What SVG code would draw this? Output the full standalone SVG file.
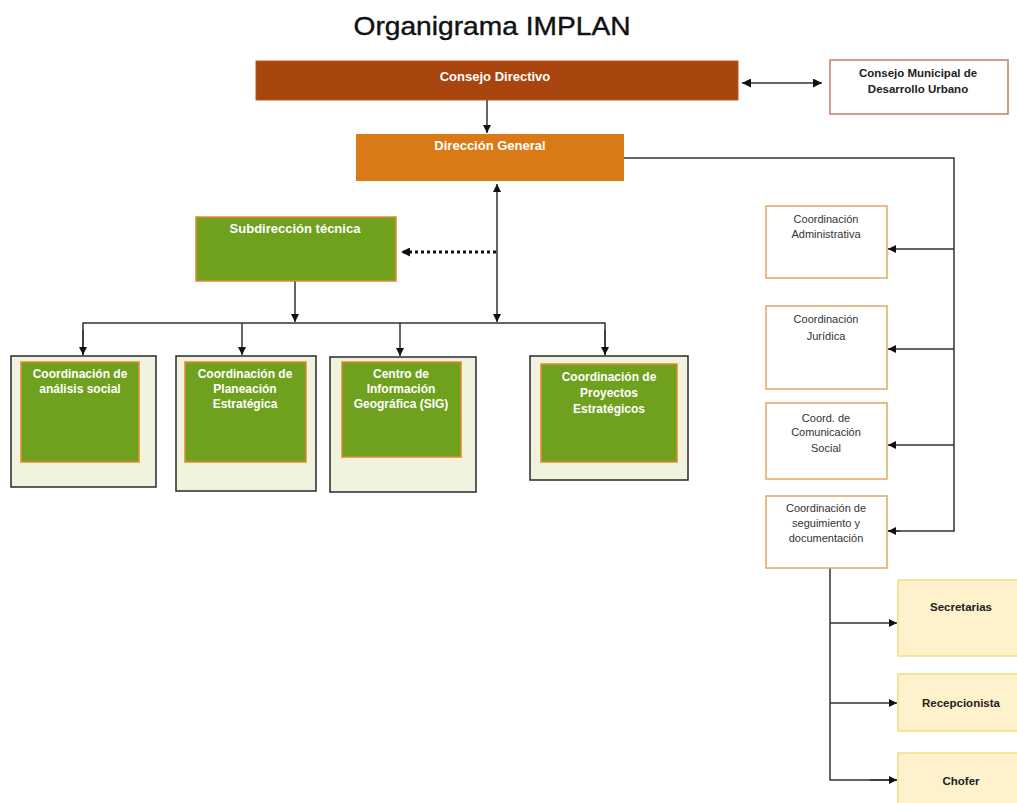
<svg xmlns="http://www.w3.org/2000/svg" width="1017" height="803" viewBox="0 0 1017 803">
<style>
.title{font-family:"Liberation Sans",Arial,sans-serif;font-size:26px;fill:#111;text-anchor:middle;stroke:#111;stroke-width:0.4}
.hw{font-family:"Liberation Sans Narrow","Liberation Sans",sans-serif;font-weight:bold;font-size:13px;fill:#fff;text-anchor:middle}
.gw{font-family:"Liberation Sans",sans-serif;font-weight:bold;font-size:12px;fill:#fff;text-anchor:middle}
.rt{font-family:"Liberation Sans",sans-serif;font-size:11px;fill:#333;text-anchor:middle}
.bt{font-family:"Liberation Sans",sans-serif;font-weight:bold;font-size:11.5px;fill:#222;text-anchor:middle}
.outer{fill:#F2F3DF;stroke:#2a2a2a;stroke-width:1.5}
.green{fill:#6FA01E;stroke:#E4892E;stroke-width:1.5}
.coord{fill:#fff;stroke:#E2A860;stroke-width:1.5}
.yel{fill:#FDF2CB;stroke:#F3DE80;stroke-width:1.5}
.ln{fill:none;stroke:#333;stroke-width:1.5}
</style>
<defs>
<marker id="ah" viewBox="0 0 10 10" refX="10" refY="5" markerWidth="8" markerHeight="8" markerUnits="userSpaceOnUse" orient="auto-start-reverse">
<path d="M0,0 L10,5 L0,10 z" fill="#111"/>
</marker>
<marker id="ahb" viewBox="0 0 10 10" refX="10" refY="5" markerWidth="9" markerHeight="9" markerUnits="userSpaceOnUse" orient="auto-start-reverse">
<path d="M0,0 L10,5 L0,10 z" fill="#111"/>
</marker>
</defs>
<rect width="1017" height="803" fill="#fff"/>
<text class="title" x="492" y="35" textLength="277" lengthAdjust="spacingAndGlyphs">Organigrama IMPLAN</text>

<g id="connectors">
<line class="ln" x1="742" y1="83" x2="822" y2="83" marker-start="url(#ahb)" marker-end="url(#ahb)"/>
<line class="ln" x1="487" y1="100" x2="487" y2="133" marker-end="url(#ah)"/>
<line class="ln" x1="497" y1="184" x2="497" y2="322" marker-start="url(#ah)" marker-end="url(#ah)"/>
<line x1="496" y1="252" x2="401" y2="252" stroke="#111" stroke-width="3" stroke-dasharray="3,3" marker-end="url(#ahb)"/>
<line class="ln" x1="295" y1="281" x2="295" y2="322" marker-end="url(#ah)"/>
<polyline class="ln" points="83,355 83,323 605,323 605,355"/>
<line class="ln" x1="83" y1="330" x2="83" y2="355" marker-end="url(#ah)"/>
<line class="ln" x1="242" y1="323" x2="242" y2="355" marker-end="url(#ah)"/>
<line class="ln" x1="400" y1="323" x2="400" y2="356" marker-end="url(#ah)"/>
<line class="ln" x1="605" y1="330" x2="605" y2="355" marker-end="url(#ah)"/>
<polyline class="ln" points="624,158 954,158 954,531 888,531"/>
<line class="ln" x1="954" y1="249" x2="888" y2="249" marker-end="url(#ah)"/>
<line class="ln" x1="954" y1="349" x2="888" y2="349" marker-end="url(#ah)"/>
<line class="ln" x1="954" y1="445" x2="888" y2="445" marker-end="url(#ah)"/>
<line class="ln" x1="900" y1="531" x2="888" y2="531" marker-end="url(#ah)"/>
<polyline class="ln" points="830,568 830,780 897,780"/>
<line class="ln" x1="830" y1="623" x2="897" y2="623" marker-end="url(#ah)"/>
<line class="ln" x1="830" y1="703" x2="897" y2="703" marker-end="url(#ah)"/>
<line class="ln" x1="870" y1="780" x2="897" y2="780" marker-end="url(#ah)"/>
</g>

<g id="consejo-directivo">
<rect x="256" y="61" width="482" height="39" fill="#A8440E" stroke="#C05A20" stroke-width="1"/>
<text class="hw" x="495" y="81">Consejo Directivo</text>
</g>
<g id="consejo-municipal">
<rect x="830" y="60" width="178" height="54" fill="#fff" stroke="#C97B5C" stroke-width="1.5"/>
<text class="bt" x="918" y="77">Consejo Municipal de</text>
<text class="bt" x="918" y="93">Desarrollo Urbano</text>
</g>
<g id="direccion-general">
<rect x="356" y="134" width="268" height="47" fill="#D97A17"/>
<text class="hw" x="490" y="150">Dirección General</text>
</g>
<g id="subdireccion-tecnica">
<rect x="196" y="217" width="200" height="64" fill="#6FA01E" stroke="#E4892E" stroke-width="1.5"/>
<text class="hw" x="295" y="233">Subdirección técnica</text>
</g>

<g id="coord-analisis-social">
<rect class="outer" x="11" y="356" width="145" height="131"/>
<rect class="green" x="21" y="362" width="118" height="100"/>
<text class="gw" x="80" y="378">Coordinación de</text>
<text class="gw" x="80" y="393">análisis social</text>
</g>
<g id="coord-planeacion">
<rect class="outer" x="176" y="356" width="140" height="135"/>
<rect class="green" x="185" y="362" width="121" height="100"/>
<text class="gw" x="245" y="378">Coordinación de</text>
<text class="gw" x="245" y="393">Planeación</text>
<text class="gw" x="245" y="408">Estratégica</text>
</g>
<g id="centro-sig">
<rect class="outer" x="330" y="357" width="146" height="135"/>
<rect class="green" x="342" y="362" width="119" height="95"/>
<text class="gw" x="401" y="378">Centro de</text>
<text class="gw" x="401" y="393">Información</text>
<text class="gw" x="401" y="408">Geográfica (SIG)</text>
</g>
<g id="coord-proyectos">
<rect class="outer" x="530" y="356" width="158" height="124"/>
<rect class="green" x="541" y="364" width="136" height="98"/>
<text class="gw" x="609" y="381">Coordinación de</text>
<text class="gw" x="609" y="397">Proyectos</text>
<text class="gw" x="609" y="413">Estratégicos</text>
</g>

<g id="coord-administrativa">
<rect class="coord" x="766" y="206" width="121" height="72"/>
<text class="rt" x="826" y="223">Coordinación</text>
<text class="rt" x="826" y="238">Administrativa</text>
</g>
<g id="coord-juridica">
<rect class="coord" x="766" y="306" width="121" height="83"/>
<text class="rt" x="826" y="323">Coordinación</text>
<text class="rt" x="826" y="340">Jurídica</text>
</g>
<g id="coord-comunicacion">
<rect class="coord" x="766" y="403" width="121" height="76"/>
<text class="rt" x="826" y="422">Coord. de</text>
<text class="rt" x="826" y="436">Comunicación</text>
<text class="rt" x="826" y="452">Social</text>
</g>
<g id="coord-seguimiento">
<rect class="coord" x="766" y="496" width="121" height="72"/>
<text class="rt" x="826" y="512">Coordinación de</text>
<text class="rt" x="826" y="527">seguimiento y</text>
<text class="rt" x="826" y="542">documentación</text>
</g>

<g id="secretarias">
<rect class="yel" x="898" y="580" width="125" height="76"/>
<text class="bt" x="961" y="611">Secretarias</text>
</g>
<g id="recepcionista">
<rect class="yel" x="898" y="674" width="125" height="57"/>
<text class="bt" x="961" y="707">Recepcionista</text>
</g>
<g id="chofer">
<rect class="yel" x="898" y="753" width="125" height="60"/>
<text class="bt" x="961" y="785">Chofer</text>
</g>
</svg>
